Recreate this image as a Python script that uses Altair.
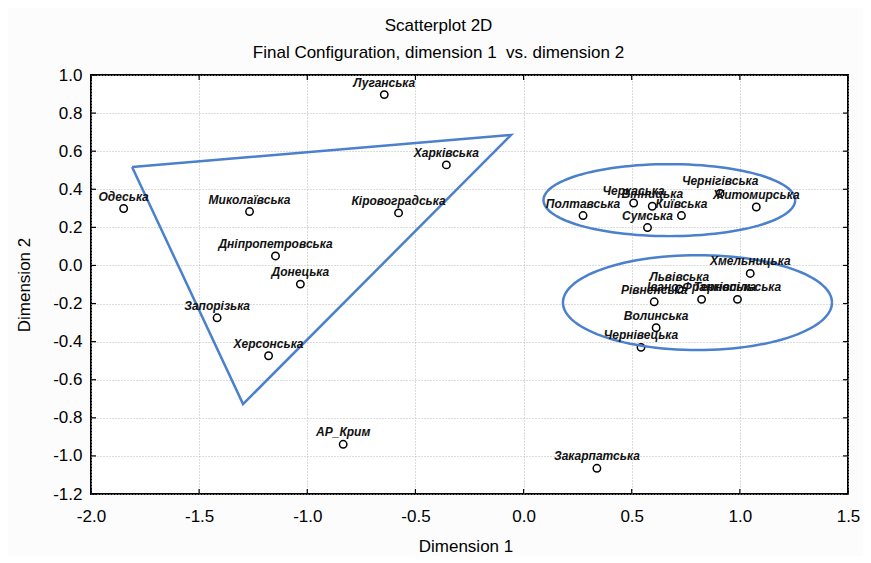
import altair as alt
import numpy as np
import pandas as pd

names = ["Луганська", "Харківська", "Одеська", "Миколаївська", "Кіровоградська",
         "Дніпропетровська", "Донецька", "Запорізька", "Херсонська", "АР_Крим",
         "Закарпатська", "Полтавська", "Черкаська", "Вінницька", "Київська",
         "Сумська", "Чернігівська", "Житомирська", "Хмельницька", "Рівненська",
         "Львівська", "Івано-Франківська", "Тернопільська", "Волинська", "Чернівецька"]
dim1 = [-0.644, -0.357, -1.849, -1.267, -0.578,
        -1.147, -1.032, -1.417, -1.179, -0.834,
        0.339, 0.275, 0.509, 0.595, 0.730,
        0.573, 0.909, 1.076, 1.048, 0.604,
        0.720, 0.823, 0.989, 0.613, 0.543]
dim2 = [0.897, 0.528, 0.299, 0.283, 0.276,
        0.050, -0.098, -0.275, -0.474, -0.939,
        -1.065, 0.262, 0.328, 0.311, 0.262,
        0.199, 0.378, 0.307, -0.042, -0.191,
        -0.124, -0.178, -0.178, -0.327, -0.430]

# annotation shapes (data coordinates)
tri_x = [-1.810, -0.058, -1.297, -1.810]
tri_y = [0.517, 0.685, -0.728, 0.517]
ell_cx = [0.674, 0.804]
ell_cy = [0.343, -0.195]
ell_rx = [0.582, 0.622]
ell_ry = [0.189, 0.249]

x_ticks = [-2.0, -1.5, -1.0, -0.5, 0.0, 0.5, 1.0, 1.5]
y_ticks = [-1.2, -1.0, -0.8, -0.6, -0.4, -0.2, 0.0, 0.2, 0.4, 0.6, 0.8, 1.0]

W, H = 757, 419
FONT = "Liberation Sans"
BLUE = "#4a80cc"

pts = pd.DataFrame({"name": names, "d1": dim1, "d2": dim2})

shape_rows = []
for i, (tx, ty) in enumerate(zip(tri_x, tri_y)):
    shape_rows.append({"grp": "tri", "o": i, "d1": tx, "d2": ty})
t = np.linspace(0, 2 * np.pi, 121)
for k in range(len(ell_cx)):
    for i, a in enumerate(t):
        shape_rows.append({"grp": f"ell{k}", "o": i,
                           "d1": ell_cx[k] + ell_rx[k] * np.cos(a),
                           "d2": ell_cy[k] + ell_ry[k] * np.sin(a)})
shapes = pd.DataFrame(shape_rows)

xs = alt.Scale(domain=[-2.0, 1.5], nice=False, zero=False)
ys = alt.Scale(domain=[-1.2, 1.0], nice=False, zero=False)
lab = "replace(format(datum.value, '.1f'), '\u2212', '-')"

common = dict(grid=True, gridDash=[1, 2], gridColor="#b8b8b8", gridWidth=1,
              domain=False, ticks=False, labelExpr=lab, labelFont=FONT,
              labelFontSize=17, labelColor="#000", labelFlush=False,
              labelOverlap=False, titleFont=FONT, titleFontSize=17,
              titleFontWeight="normal", titleColor="#000")
x_axis = alt.Axis(values=x_ticks, labelPadding=14, title="Dimension 1",
                  titlePadding=14, titleX=W / 2 - 4, **common)
y_axis = alt.Axis(values=y_ticks, labelPadding=9, title="Dimension 2",
                  titlePadding=19, **common)


def X(f):
    return alt.X(f, type="quantitative", scale=xs, axis=x_axis)


def Y(f):
    return alt.Y(f, type="quantitative", scale=ys, axis=y_axis)


base_pts = alt.Chart(pts)

points = base_pts.mark_point(shape="circle", filled=False, fill="white", stroke="black",
                             strokeWidth=1.5, size=55, opacity=1).encode(
    x=X("d1"), y=Y("d2"))

labels = base_pts.mark_text(font=FONT, fontSize=12, fontStyle="italic", fontWeight="bold",
                            color="#111", dy=-12, baseline="middle", align="center").encode(
    x=X("d1"), y=Y("d2"), text="name:N")

shape_lines = alt.Chart(shapes).mark_line(color=BLUE, strokeWidth=2.5).encode(
    x=X("d1"), y=Y("d2"), detail="grp:N", order="o:Q")

xt = alt.Chart(pd.DataFrame({"v": x_ticks}))
yt = alt.Chart(pd.DataFrame({"v": y_ticks}))
tick_b = xt.mark_rule(color="black", strokeWidth=1.2).encode(
    x=X("v"), y=alt.value(H), y2=alt.value(H - 5))
tick_t = xt.mark_rule(color="black", strokeWidth=1.2).encode(
    x=X("v"), y=alt.value(0), y2=alt.value(5))
tick_l = yt.mark_rule(color="black", strokeWidth=1.2).encode(
    y=Y("v"), x=alt.value(0), x2=alt.value(5))
tick_r = yt.mark_rule(color="black", strokeWidth=1.2).encode(
    y=Y("v"), x=alt.value(W), x2=alt.value(W - 5))

chart = alt.layer(points, shape_lines, labels, tick_b, tick_t, tick_l, tick_r).properties(
    width=W, height=H,
    title=alt.Title("Scatterplot 2D",
                    subtitle="Final Configuration, dimension 1\u00a0 vs. dimension 2",
                    font=FONT, subtitleFont=FONT, fontSize=17, subtitleFontSize=17,
                    fontWeight="normal", color="#000", subtitleColor="#000",
                    anchor="middle", dx=-31, offset=4, subtitlePadding=10),
    autosize=alt.AutoSizeParams(type="none"),
    padding={"left": 83, "top": 67, "right": 15, "bottom": 62},
    background="#fcfcfc",
).configure_view(fill="white", stroke="black", strokeWidth=2)

chart.save("out.html", embed_options={"renderer": "svg", "actions": False})
